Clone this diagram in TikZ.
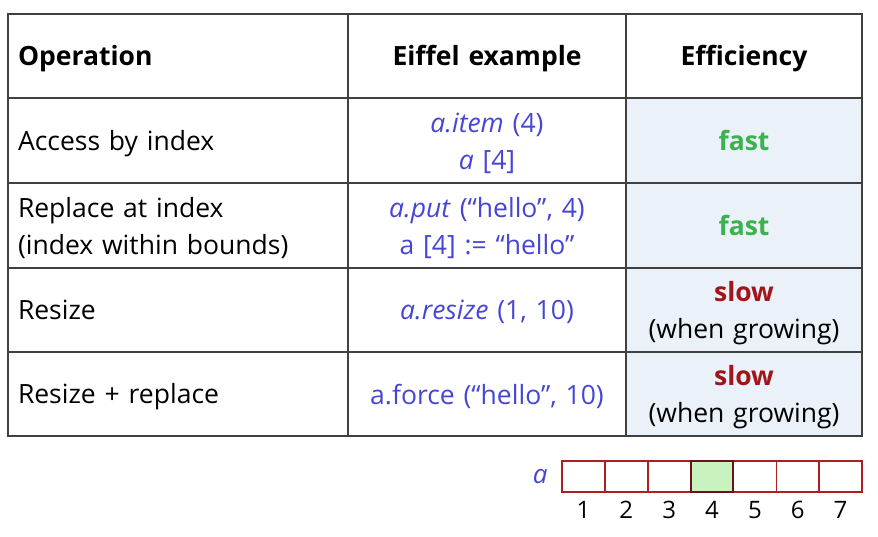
\documentclass[tikz,border=0pt]{standalone}
\usepackage{fontspec}
\setmainfont{Open Sans}
\usetikzlibrary{positioning}
\definecolor{codeblue}{RGB}{70,70,214}
\definecolor{fastgreen}{RGB}{60,178,78}
\definecolor{slowred}{RGB}{160,22,26}
\definecolor{effbg}{RGB}{234,241,248}
\definecolor{arrred}{RGB}{176,30,34}
\definecolor{arrgreen}{RGB}{200,243,190}
\newcommand{\code}[1]{\textcolor{codeblue}{#1}}
\newcommand{\cellpad}{\par\vspace{-6pt}}

\begin{document}
\begin{tikzpicture}[x=1pt,y=-1pt,font=\fontsize{26.5}{37}\selectfont,
  tcell/.style={draw=black!75,line width=1.3pt,outer sep=0pt,inner xsep=10pt,inner ysep=0pt,
    execute at end node=\cellpad},
  opcol/.style={tcell,minimum width=340pt,text width=320pt,align=left},
  excol/.style={tcell,minimum width=278pt,text width=258pt,align=center},
  efcol/.style={tcell,minimum width=236pt,text width=216pt,align=center},
  slot/.style={draw=arrred,line width=1.6pt,minimum width=42.86pt,minimum height=31pt,inner sep=0pt}]
  \useasboundingbox (0,0) rectangle (878,536);
  % header
  \node[opcol,minimum height=84pt,anchor=north west] (op0) at (8,14) {\textbf{Operation}};
  \node[excol,minimum height=84pt,right=0pt of op0] (ex0) {\textbf{Eiffel example}};
  \node[efcol,minimum height=84pt,right=0pt of ex0] (ef0) {\textbf{Efficiency}};
  % rows
  \node[opcol,minimum height=85pt,below=0pt of op0] (op1) {Access by index};
  \node[excol,minimum height=85pt,right=0pt of op1] (ex1) {\code{\textit{a.item} (4)}\\\code{\textit{a} [4]}};
  \node[efcol,minimum height=85pt,fill=effbg,right=0pt of ex1] (ef1) {\textcolor{fastgreen}{\textbf{fast}}};
  \node[opcol,minimum height=85pt,below=0pt of op1] (op2) {Replace at index\\(index within bounds)};
  \node[excol,minimum height=85pt,right=0pt of op2] (ex2) {\code{\textit{a.put} (“hello”, 4)}\\\code{a [4] := “hello”}};
  \node[efcol,minimum height=85pt,fill=effbg,right=0pt of ex2] (ef2) {\textcolor{fastgreen}{\textbf{fast}}};
  \node[opcol,minimum height=84pt,below=0pt of op2] (op3) {Resize};
  \node[excol,minimum height=84pt,right=0pt of op3] (ex3) {\code{\textit{a.resize} (1, 10)}};
  \node[efcol,minimum height=84pt,fill=effbg,right=0pt of ex3] (ef3) {\textcolor{slowred}{\textbf{slow}}\\(when growing)};
  \node[opcol,minimum height=84pt,below=0pt of op3] (op4) {Resize + replace};
  \node[excol,minimum height=84pt,right=0pt of op4] (ex4) {\code{a.force (“hello”, 10)}};
  \node[efcol,minimum height=84pt,fill=effbg,right=0pt of ex4] (ef4) {\textcolor{slowred}{\textbf{slow}}\\(when growing)};
  % the array
  \foreach \i in {1,...,7}{
    \node[slot] (s\i) at (562+42.86*\i-21.43,476.5) {};
    \node[font=\fontsize{24}{26}\selectfont] (n\i) at (562+42.86*\i-21.43,510) {\i};
  }
  \node[slot,fill=arrgreen,draw=arrred!60!black,line width=2pt] (s4) at (s4) {};
  \node[left=10pt of s1,font=\fontsize{26}{26}\selectfont\itshape,text=codeblue] (arr) {a};
\end{tikzpicture}
\end{document}
